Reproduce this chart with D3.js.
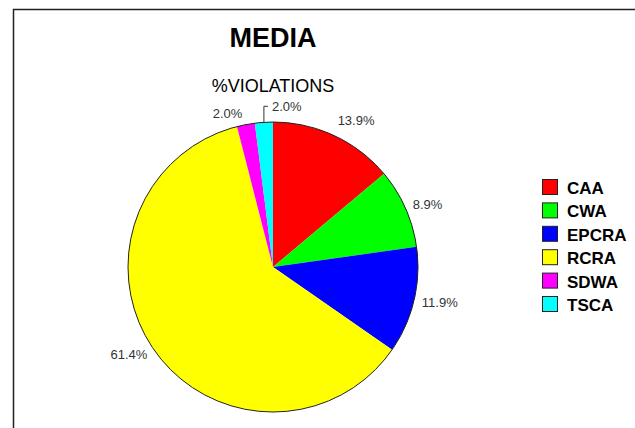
<!DOCTYPE html>
<html>
<head>
<meta charset="utf-8">
<script src="https://cdn.jsdelivr.net/npm/d3@7"></script>
<style>
  body { margin: 0; background: #fff; }
  text { font-family: Arial, "Liberation Sans", sans-serif; }
</style>
</head>
<body>
<div class="canvas"></div>
<script>
const categories = ['CAA', 'CWA', 'EPCRA', 'RCRA', 'SDWA', 'TSCA'];
const percents = [13.9, 8.9, 11.9, 61.4, 2.0, 2.0];
const colours = ['#ff0000', '#00ff00', '#0000ff', '#ffff00', '#ff00ff', '#00ffff'];

const svgWidth = 635;
const svgHeight = 428;
const cx = 273, cy = 267, radius = 145;

const svg = d3.select('.canvas')
    .append('svg')
        .attr('width', svgWidth)
        .attr('height', svgHeight);

svg.append('rect')
    .attr('width', svgWidth)
    .attr('height', svgHeight)
    .attr('fill', '#fff');

// frame (top + left only)
svg.append('path')
    .attr('d', `M13.5,${svgHeight} V9.5 H${svgWidth}`)
    .attr('fill', 'none')
    .attr('stroke', '#222')
    .attr('stroke-width', 1.5);

svg.append('text')
    .attr('x', cx).attr('y', 47)
    .attr('text-anchor', 'middle')
    .attr('font-size', 27)
    .attr('font-weight', 'bold')
    .text('MEDIA');

svg.append('text')
    .attr('x', cx).attr('y', 92)
    .attr('text-anchor', 'middle')
    .attr('font-size', 18)
    .text('%VIOLATIONS');

const data = categories.map((c, i) => ({ name: c, value: percents[i], colour: colours[i] }));

const pie = d3.pie().sort(null).value(d => d.value);
const arc = d3.arc().innerRadius(0).outerRadius(radius);
const arcs = pie(data);

const graph = svg.append('g')
    .attr('transform', `translate(${cx},${cy})`);

graph.selectAll('path.slice')
    .data(arcs)
    .enter()
    .append('path')
        .attr('class', 'slice')
        .attr('d', arc)
        .attr('fill', d => d.data.colour);

graph.append('circle')
    .attr('r', radius)
    .attr('fill', 'none')
    .attr('stroke', '#222')
    .attr('stroke-width', 1);

// labels
const labelRadius = radius + 8;
const nudge = { CAA: [0, -8], SDWA: [-2, -3] };

arcs.forEach(d => {
    const mid = (d.startAngle + d.endAngle) / 2;
    const label = d.data.value.toFixed(1) + '%';
    if (d.data.name === 'TSCA') {
        // leader line
        const lx = Math.sin(mid) * radius;
        const ly = -Math.cos(mid) * radius;
        graph.append('path')
            .attr('d', `M${lx},${ly} V${ly - 16} H${lx + 4}`)
            .attr('fill', 'none')
            .attr('stroke', '#333')
            .attr('stroke-width', 1);
        graph.append('text')
            .attr('x', lx + 8).attr('y', ly - 11)
            .attr('font-size', 13)
            .attr('fill', '#333')
            .text(label);
        return;
    }
    const off = nudge[d.data.name] || [0, 0];
    const x = Math.sin(mid) * labelRadius + off[0];
    const y = -Math.cos(mid) * labelRadius + off[1];
    graph.append('text')
        .attr('x', x).attr('y', y)
        .attr('dy', '0.35em')
        .attr('text-anchor', mid < Math.PI ? 'start' : 'end')
        .attr('font-size', 13)
        .attr('fill', '#333')
        .text(label);
});

// legend
const legend = svg.append('g')
    .attr('transform', 'translate(542,179)');

const rows = legend.selectAll('g')
    .data(data)
    .enter()
    .append('g')
        .attr('transform', (d, i) => `translate(0,${i * 23.4})`);

rows.append('rect')
    .attr('x', 0.5).attr('y', 0.5)
    .attr('width', 15).attr('height', 15)
    .attr('fill', d => d.colour)
    .attr('stroke', '#222')
    .attr('stroke-width', 1);

rows.append('text')
    .attr('x', 25).attr('y', 15)
    .attr('font-size', 17)
    .attr('font-weight', 'bold')
    .text(d => d.name);
</script>
</body>
</html>
